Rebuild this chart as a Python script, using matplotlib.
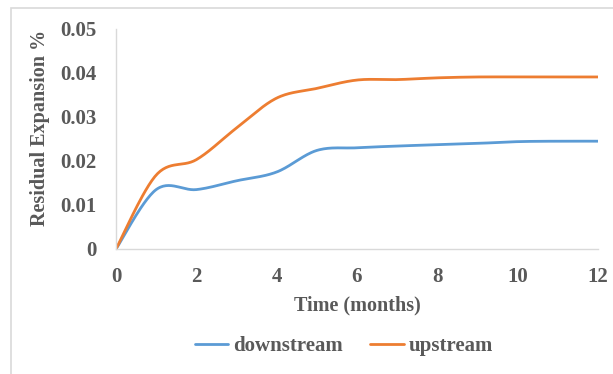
import numpy as np
import matplotlib
matplotlib.use("Agg")
import matplotlib.pyplot as plt
from matplotlib.patches import Rectangle

months = [0, 1, 2, 3, 4, 5, 6, 7, 8, 9, 10, 11, 12]
downstream = [0, 0.0135, 0.0135, 0.0155, 0.0175, 0.0224, 0.0230, 0.0234, 0.0237, 0.0240, 0.0244, 0.0245, 0.0245]
upstream = [0, 0.0168, 0.0203, 0.0275, 0.0343, 0.0365, 0.0384, 0.0385, 0.0389, 0.0391, 0.0391, 0.0391, 0.0391]
x_ticks = [0, 2, 4, 6, 8, 10, 12]
y_ticks = [0, 0.01, 0.02, 0.03, 0.04, 0.05]
y_labels = ["0", "0.01", "0.02", "0.03", "0.04", "0.05"]


def smooth(x, y, n=30):
    # Catmull-Rom style smoothing (as spreadsheet "smoothed line")
    x = np.asarray(x, float)
    y = np.asarray(y, float)
    P = np.column_stack([x, y])
    out = []
    for i in range(len(P) - 1):
        p0 = P[i - 1] if i > 0 else P[i]
        p1 = P[i]
        p2 = P[i + 1]
        p3 = P[i + 2] if i + 2 < len(P) else P[i + 1]
        c1 = p1 + (p2 - p0) / 6.0
        c2 = p2 - (p3 - p1) / 6.0
        t = np.linspace(0, 1, n)[:, None]
        seg = ((1 - t) ** 3) * p1 + 3 * ((1 - t) ** 2) * t * c1 + 3 * (1 - t) * t ** 2 * c2 + t ** 3 * p2
        out.append(seg if i == 0 else seg[1:])
    s = np.vstack(out)
    return s[:, 0], s[:, 1]


plt.rcParams['font.family'] = ['Liberation Serif', 'DejaVu Serif']
gray = '#595959'

fig = plt.figure(figsize=(6.13, 3.74), dpi=100)
fig.patches.append(Rectangle((11 / 613, -0.01), 1.1, (374 - 8) / 374 + 0.01,
                             transform=fig.transFigure, fill=False,
                             edgecolor='#d9d9d9', linewidth=1.2))
ax = fig.add_axes([116 / 613, (374 - 249) / 374, (598 - 116) / 613, (249 - 29) / 374])

xs, ys = smooth(months, downstream)
ax.plot(xs, ys, color='#5b9bd5', linewidth=2.0, label='downstream', solid_capstyle='round')
xs, ys = smooth(months, upstream)
ax.plot(xs, ys, color='#ed7d31', linewidth=2.0, label='upstream', solid_capstyle='round')

ax.set_xlim(0, 12)
ax.set_ylim(0, 0.05)
ax.set_xticks(x_ticks)
ax.set_yticks(y_ticks)
ax.set_yticklabels(y_labels)
ax.tick_params(length=0, labelsize=15, colors=gray)
ax.tick_params(axis='y', pad=14)
ax.tick_params(axis='x', pad=13)
for lab in ax.get_xticklabels() + ax.get_yticklabels():
    lab.set_fontweight('bold')
for s in ['top', 'right']:
    ax.spines[s].set_visible(False)
for s in ['left', 'bottom']:
    ax.spines[s].set_color('#d9d9d9')
    ax.spines[s].set_linewidth(1.0)

ax.set_xlabel('Time (months)', fontsize=14.5, fontweight='bold', color=gray, labelpad=6)
ax.set_ylabel('Residual Expansion %', fontsize=14.5, fontweight='bold', color=gray, labelpad=7)
ax.yaxis.set_label_coords(-0.136, 0.55)

leg = ax.legend(loc='center', bbox_to_anchor=(0.473, -0.44), ncol=2, frameon=False,
                fontsize=15, handlelength=1.6, handletextpad=0.25, columnspacing=1.3)
for t in leg.get_texts():
    t.set_color(gray)
    t.set_fontweight('bold')

fig.savefig('out.png', dpi=100)
